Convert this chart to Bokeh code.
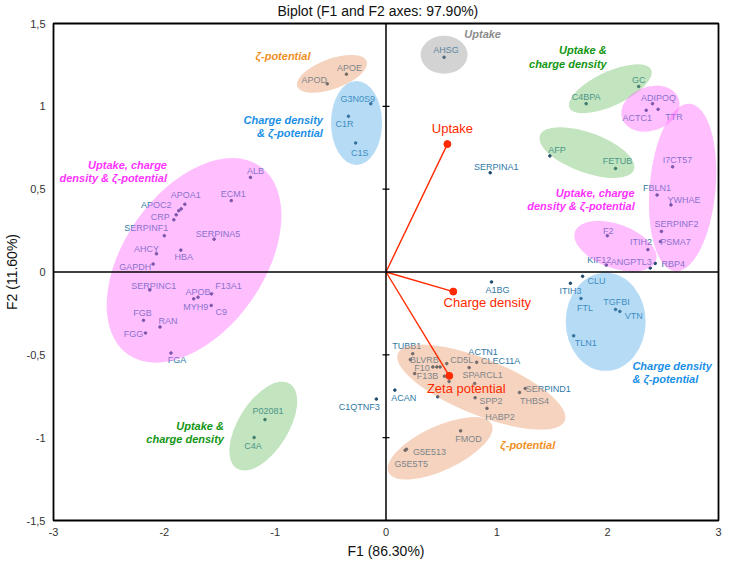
from bokeh.plotting import figure
from bokeh.models import ColumnDataSource, Range1d, FixedTicker, Span
from bokeh.embed import file_html
from bokeh.resources import INLINE
from bokeh.core.properties import value
import math

# ---------------- data ----------------
names = ["ALB", "ECM1", "APOA1", "APOC2", "CRP", "", "", "SERPINF1", "SERPINA5", "AHCY",
         "HBA", "GAPDH", "SERPINC1", "APOB", "MYH9", "F13A1", "C9", "FGB", "RAN", "FGG",
         "FGA", "APOD", "APOE", "G3N0S9", "C1R", "C1S", "AHSG", "SERPINA1", "C4BPA", "GC",
         "ADIPOQ", "ACTC1", "TTR", "AFP", "FETUB", "I7CT57", "FBLN1", "YWHAE", "SERPINF2", "PSMA7",
         "ITIH2", "RBP4", "ANGPTL3", "KIF12", "F2", "A1BG", "CLU", "ITIH3", "FTL", "TGFBI",
         "VTN", "TLN1", "TUBB1", "BLVRB", "F10", "", "", "CD5L", "ACTN1", "CLEC11A",
         "SPARCL1", "F13B", "", "", "", "SPP2", "HABP2", "THBS4", "SERPIND1", "ACAN",
         "FMOD", "G5E513", "G5E5T5", "C1QTNF3", "P02081", "C4A"]
f1 = [-1.223, -1.396, -1.815, -1.848, -1.893, -1.914, -1.870, -2.000, -1.551, -2.071,
      -1.851, -2.101, -2.131, -1.696, -1.735, -1.574, -1.577, -2.188, -2.039, -2.170,
      -1.940, -0.530, -0.357, -0.137, -0.339, -0.274, 0.524, 0.940, 1.806, 2.280,
      2.405, 2.348, 2.455, 1.479, 2.071, 2.586, 2.446, 2.571, 2.485, 2.476,
      2.363, 2.429, 2.384, 1.988, 1.997, 0.952, 1.774, 1.664, 1.759, 2.071,
      2.110, 1.693, 0.241, 0.220, 0.423, 0.459, 0.488, 0.548, 0.750, 0.818,
      0.800, 0.527, 0.259, 0.569, 0.467, 0.804, 0.911, 1.205, 1.256, 0.080,
      0.673, 0.185, 0.173, -0.087, -1.092, -1.190]
f2 = [0.571, 0.431, 0.409, 0.381, 0.345, 0.315, 0.370, 0.219, 0.198, 0.110,
      0.132, 0.048, -0.108, -0.152, -0.162, -0.132, -0.202, -0.292, -0.332, -0.368,
      -0.489, 1.136, 1.194, 1.016, 0.940, 0.779, 1.296, 0.599, 1.016, 1.120,
      1.016, 0.976, 0.982, 0.701, 0.625, 0.635, 0.465, 0.405, 0.245, 0.184,
      0.135, 0.052, 0.024, 0.042, 0.219, -0.060, -0.026, -0.068, -0.160, -0.226,
      -0.238, -0.385, -0.493, -0.529, -0.573, -0.573, -0.573, -0.553, -0.577, -0.545,
      -0.673, -0.629, -0.613, -0.661, -0.753, -0.759, -0.823, -0.727, -0.703, -0.713,
      -0.959, -1.070, -1.076, -0.767, -0.891, -0.999]

var_names = ["Uptake", "Charge density", "Zeta potential"]
var_f1 = [0.554, 0.607, 0.571]
var_f2 = [0.772, -0.118, -0.627]

x_ticks = [-3, -2, -1, 0, 1, 2, 3]
y_ticks = [-1.5, -1, -0.5, 0, 0.5, 1, 1.5]
y_tick_labels = ["-1,5", "-1", "-0,5", "0", "0,5", "1", "1,5"]

title_text = "Biplot (F1 and F2 axes: 97.90%)"
x_title = "F1 (86.30%)"
y_title = "F2 (11.60%)"

# ---------------- label placement (screen px, +y down) ----------------
LABEL_POS = {
    "ALB": (5, -6), "ECM1": (2, -7), "APOA1": (1, -9), "APOC2": (-25, -4), "CRP": (-16, 2),
    "SERPINF1": (-18, -8), "SERPINA5": (4, -5), "AHCY": (-10, -5), "HBA": (3, 7),
    "GAPDH": (-18, 3), "SERPINC1": (4, -4), "APOB": (0, -5), "MYH9": (2, 8), "F13A1": (17, -8),
    "C9": (10, 7), "FGB": (-1, -7), "RAN": (8, -6), "FGG": (-12, 1), "FGA": (6, 7),
    "APOD": (-13, -4), "APOE": (3, -6), "G3N0S9": (-13, -5), "C1R": (-4, 8), "C1S": (4, 10),
    "AHSG": (2, -7), "SERPINA1": (6, -6), "C4BPA": (0, -7), "GC": (0, -6), "ADIPOQ": (6, -6),
    "ACTC1": (-9, 8), "TTR": (16, 8), "AFP": (7, -6), "FETUB": (2, -7), "I7CT57": (5, -7),
    "FBLN1": (0, -7), "YWHAE": (13, -5), "SERPINF2": (15, -7), "PSMA7": (15, 0),
    "ITIH2": (-7, -8), "RBP4": (18, 1), "ANGPTL3": (-19, -6), "KIF12": (-7, -5), "F2": (1, -5),
    "A1BG": (6, 8), "CLU": (14, 5), "ITIH3": (0, 8), "FTL": (4, 9), "TGFBI": (1, -7),
    "VTN": (14, 5), "TLN1": (12, 7), "TUBB1": (-6, -8), "BLVRB": (14, 0), "F10": (-11, 1),
    "CD5L": (15, -4), "ACTN1": (14, -16), "CLEC11A": (24, -1), "SPARCL1": (8, -8),
    "F13B": (-17, 0), "SPP2": (16, 3), "HABP2": (13, 9), "THBS4": (15, 9), "SERPIND1": (23, 1),
    "ACAN": (9, 8), "FMOD": (8, 8), "G5E513": (23, 3), "G5E5T5": (6, 14), "C1QTNF3": (-17, 8),
    "P02081": (3, -9), "C4A": (-1, 8),
}
VAR_LABEL_POS = [(5, -16), (34, 11), (17, 13)]

# group ellipses: centre (data), width/height (px), angle (deg), colour
ELLIPSES = [
    (-1.732, 0.070, 230, 140, 55, "#FF66FF"),
    (-0.487, 1.196, 74, 30, 20, "#E69664"),
    (-0.266, 0.900, 51, 84, 0, "#50AAE6"),
    (0.524, 1.311, 47, 38, 0, "#969696"),
    (2.024, 1.106, 90, 34, 25, "#6EBE64"),
    (2.386, 0.986, 60, 44, 20, "#FF66FF"),
    (2.676, 0.510, 66, 168, -5, "#FF66FF"),
    (2.070, 0.156, 86, 44, -20, "#FF66FF"),
    (1.813, 0.721, 100, 40, -20, "#6EBE64"),
    (1.982, -0.301, 80, 98, 0, "#50AAE6"),
    (0.860, -0.695, 180, 56, -22, "#E69664"),
    (0.488, -1.064, 114, 44, 25, "#E69664"),
    (-1.107, -0.930, 100, 50, 58, "#6EBE64"),
]

# group captions: text, x, y (data), align, colour
CAPTIONS = [
    ("Uptake, charge\ndensity & ζ-potential", -1.976, 0.605, "right", "#FF33FF"),
    ("Uptake, charge\ndensity & ζ-potential", 2.244, 0.437, "right", "#FF33FF"),
    ("ζ-potential", -0.929, 1.301, "center", "#F0901E"),
    ("Charge density\n& ζ-potential", -0.569, 0.880, "right", "#1A8FE6"),
    ("Uptake", 0.872, 1.436, "center", "#8C8C8C"),
    ("Uptake &\ncharge density", 1.991, 1.298, "right", "#129612"),
    ("Charge density\n& ζ-potential", 2.223, -0.608, "left", "#1A8FE6"),
    ("ζ-potential", 1.279, -1.043, "center", "#F0901E"),
    ("Uptake &\ncharge density", -1.462, -0.969, "right", "#129612"),
]

FONT = "Liberation Sans"

p = figure(width=733, height=561, x_range=Range1d(-3, 3), y_range=Range1d(-1.5, 1.5),
           output_backend="svg", toolbar_location=None, title=title_text,
           min_border_left=46, min_border_right=15, min_border_top=21, min_border_bottom=41)
p.title.align = "left"
p.title.offset = 224
p.title.vertical_align = "top"
p.title.standoff = 5
p.title.text_font = FONT
p.title.text_font_size = "14px"
p.title.text_font_style = "normal"
p.title.text_color = "#111111"

p.grid.visible = False
p.outline_line_color = "black"
p.outline_line_width = 1.8
p.background_fill_color = "white"

for ax in (p.xaxis[0], p.yaxis[0]):
    ax.axis_line_color = None
    ax.major_tick_line_color = None
    ax.minor_tick_line_color = None
    ax.major_tick_out = 0
    ax.major_tick_in = 0
    ax.major_label_text_font = FONT
    ax.major_label_text_font_size = "11px"
    ax.major_label_text_color = "#333333"
    ax.major_label_standoff = 7
    ax.axis_label_text_font = FONT
    ax.axis_label_text_font_size = "14px"
    ax.axis_label_text_font_style = "normal"
    ax.axis_label_text_color = "#111111"
p.xaxis.ticker = FixedTicker(ticks=x_ticks)
p.yaxis.ticker = FixedTicker(ticks=y_ticks)
p.xaxis.major_label_overrides = {float(t): str(t) for t in x_ticks}
p.yaxis.major_label_overrides = {float(t): l for t, l in zip(y_ticks, y_tick_labels)}
p.yaxis.major_label_standoff = 8
p.xaxis.axis_label = x_title
p.yaxis.axis_label = y_title
p.xaxis.axis_label_standoff = 4
p.yaxis.axis_label_standoff = 4

# points and labels
src = ColumnDataSource(dict(
    x=f1, y=f2, name=names,
    dx=[LABEL_POS.get(n, (0, 0))[0] for n in names],
    dy=[LABEL_POS.get(n, (0, 0))[1] for n in names],
))
p.scatter("x", "y", source=src, size=2.6, color="#1E4B6E")
p.text("x", "y", text="name", source=src, x_offset="dx", y_offset="dy",
       text_align="center", text_baseline="middle", text_font=value(FONT),
       text_font_size="9px", text_color="#3079A6")

# ellipses over the labels
for cx, cy, w, h, ang, col in ELLIPSES:
    p.ellipse(x=[cx], y=[cy], width=w, height=h, angle=math.radians(ang),
              width_units="screen", height_units="screen",
              fill_color=col, fill_alpha=0.42, line_color=None)

# captions
for txt, cx, cy, al, col in CAPTIONS:
    p.text(x=[cx], y=[cy], text=[txt], text_align=al, text_baseline="middle",
           text_font=value(FONT), text_font_size="11px", text_font_style="bold italic",
           text_color=col, text_line_height=1.1)

# central axes
p.add_layout(Span(location=0, dimension="width", line_color="black", line_width=1.5))
p.add_layout(Span(location=0, dimension="height", line_color="black", line_width=1.5))
p.scatter(x=[0] * 4, y=[t for t in y_ticks if t not in (0, 1.5, -1.5)], marker="dash",
          size=7, line_color="black", line_width=1.2)

# variable vectors
vsrc = ColumnDataSource(dict(x=var_f1, y=var_f2, name=var_names,
                             dx=[d[0] for d in VAR_LABEL_POS], dy=[d[1] for d in VAR_LABEL_POS]))
p.segment(x0=0, y0=0, x1="x", y1="y", source=vsrc, line_color="#FF2A00", line_width=1.4)
p.scatter("x", "y", source=vsrc, size=7, color="#FF2A00")
p.text("x", "y", text="name", source=vsrc, x_offset="dx", y_offset="dy",
       text_align="center", text_baseline="middle", text_font=value(FONT),
       text_font_size="13px", text_color="#FF2A00")

open("out.html", "w").write(file_html(p, INLINE))
